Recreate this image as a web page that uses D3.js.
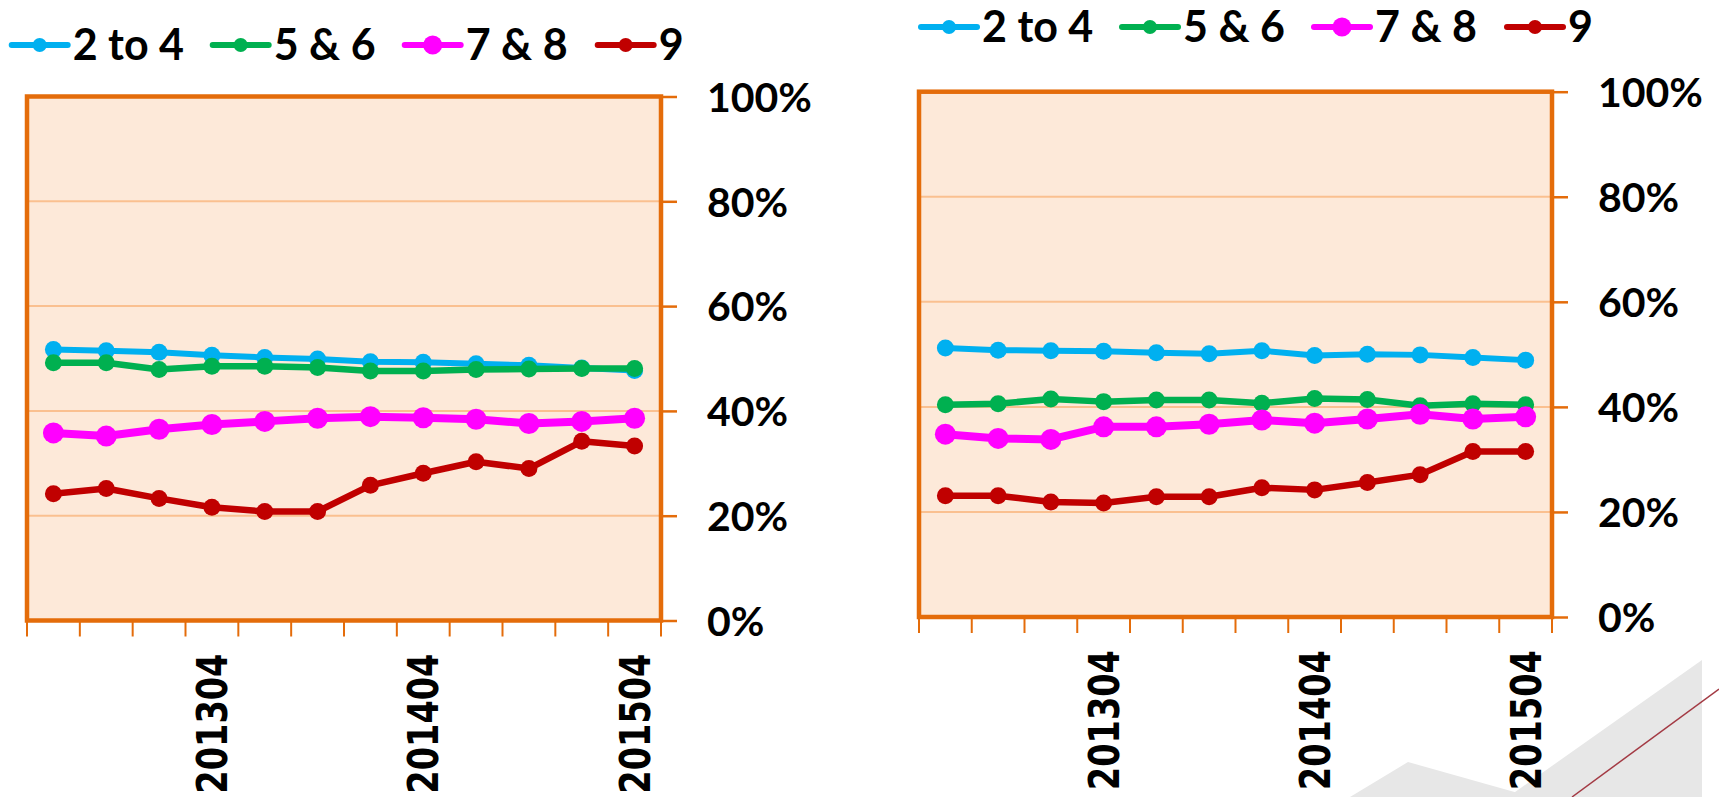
<!DOCTYPE html>
<html>
<head>
<meta charset="utf-8">
<script src="https://cdn.jsdelivr.net/npm/d3@7"></script>
<style>
  html, body { margin: 0; padding: 0; background: #ffffff; }
  svg { display: block; }
</style>
</head>
<body>
<svg id="chart" width="1719" height="797"></svg>
<script>
// ---------------- DATA ----------------
const categories = ["201301","201302","201303","201304","201401","201402","201403","201404","201501","201502","201503","201504"];
const tickLabels = ["201304","201404","201504"];
const seriesNames = ["2 to 4","5 & 6","7 & 8","9"];
const yTicks = [0, 20, 40, 60, 80, 100];

// left chart
const left_2to4 = [51.7, 51.5, 51.2, 50.6, 50.2, 49.9, 49.4, 49.3, 49.0, 48.7, 48.2, 47.7];
const left_5and6 = [49.2, 49.2, 47.9, 48.5, 48.5, 48.3, 47.6, 47.6, 47.9, 48.0, 48.1, 48.1];
const left_7and8 = [35.8, 35.2, 36.5, 37.4, 38.0, 38.6, 38.9, 38.7, 38.4, 37.6, 38.0, 38.6];
const left_9 = [24.2, 25.2, 23.3, 21.6, 20.8, 20.8, 25.8, 28.1, 30.3, 29.0, 34.2, 33.3];

// right chart
const right_2to4 = [51.2, 50.8, 50.7, 50.6, 50.3, 50.1, 50.7, 49.8, 50.0, 49.9, 49.4, 48.9];
const right_5and6 = [40.4, 40.6, 41.5, 41.0, 41.3, 41.3, 40.7, 41.6, 41.4, 40.2, 40.6, 40.4];
const right_7and8 = [34.8, 34.0, 33.8, 36.2, 36.2, 36.7, 37.5, 36.9, 37.7, 38.6, 37.7, 38.1];
const right_9 = [23.1, 23.1, 21.9, 21.7, 22.9, 22.9, 24.6, 24.2, 25.6, 27.1, 31.5, 31.5];

// ---------------- STYLE ----------------
const colors = ["#00B0F0", "#00B050", "#FF00FF", "#C00000"];
const lineWidths = [6, 6.5, 8, 6.5];
const markerR = [8.5, 8.5, 10.5, 8.5];
const legendR = [7, 7, 9.5, 7];
const legendOffsets = [0, 201, 393, 586];
const ORANGE = "#E46C0A";
const GRID = "#FAC090";
const PLOTBG = "#FDE9D9";

const svg = d3.select("#chart");

// ---------------- background decoration ----------------
const deco = svg.append("g");
deco.append("polygon")
  .attr("points", "1350,797 1408,762 1532,797")
  .attr("fill", "#E7E7E7");
deco.append("polygon")
  .attr("points", "1508,797 1702,660 1702,797")
  .attr("fill", "#E7E7E7");
deco.append("line")
  .attr("x1", 1572).attr("y1", 797).attr("x2", 1719).attr("y2", 689)
  .attr("stroke", "#A33A44").attr("stroke-width", 1.5);

// ---------------- charts ----------------
const charts = [
  { left: 27, right: 661, top: 96.5, bottom: 620.5, legendX: 11.7, legendY: 45,
    series: [left_2to4, left_5and6, left_7and8, left_9] },
  { left: 919, right: 1552, top: 91.7, bottom: 617, legendX: 921, legendY: 27,
    series: [right_2to4, right_5and6, right_7and8, right_9] }
];

charts.forEach(c => {
  const g = svg.append("g");
  const x = d3.scaleBand().domain(categories).range([c.left, c.right]);
  const y = d3.scaleLinear().domain([0, 100]).range([c.bottom, c.top]);
  const bw = x.bandwidth();

  // plot background
  g.append("rect")
    .attr("x", c.left).attr("y", y(100))
    .attr("width", c.right - c.left).attr("height", y(0) - y(100))
    .attr("fill", PLOTBG);

  // gridlines
  g.selectAll(".grid").data(yTicks.filter(t => t > 0 && t < 100)).join("line")
    .attr("x1", c.left).attr("x2", c.right)
    .attr("y1", d => y(d)).attr("y2", d => y(d))
    .attr("stroke", GRID).attr("stroke-width", 2);

  // right y axis
  const yAxis = d3.axisRight(y).tickValues(yTicks).tickSize(16).tickPadding(30)
    .tickFormat(d => d + "%");
  const ya = g.append("g").attr("transform", `translate(${c.right},0)`).call(yAxis);
  ya.select(".domain").remove();
  ya.selectAll(".tick line").attr("stroke", ORANGE).attr("stroke-width", 2.5);
  ya.selectAll(".tick text")
    .attr("fill", "#000")
    .style("font-family", "Lato, 'Open Sans', sans-serif")
    .style("font-weight", "bold")
    .style("font-size", "41px")
    .attr("dy", "0.36em");

  // x ticks at band boundaries
  const bounds = categories.map(cat => x(cat)).concat([x(categories[categories.length - 1]) + bw]);
  g.selectAll(".xt").data(bounds).join("line")
    .attr("x1", d => d).attr("x2", d => d)
    .attr("y1", y(0)).attr("y2", y(0) + 16)
    .attr("stroke", ORANGE).attr("stroke-width", 2);

  // frame
  g.append("rect")
    .attr("x", c.left).attr("y", y(100))
    .attr("width", c.right - c.left).attr("height", y(0) - y(100))
    .attr("fill", "none").attr("stroke", ORANGE).attr("stroke-width", 4.5);

  // x labels
  g.selectAll(".xl").data(tickLabels).join("text")
    .attr("transform", d => `translate(${x(d) + bw / 2},${y(0) + 33}) rotate(-90) scale(0.8,1)`)
    .attr("text-anchor", "end")
    .attr("dy", "0.36em")
    .attr("fill", "#000")
    .style("font-family", "'DejaVu Sans', Verdana, sans-serif")
    .style("font-weight", "bold")
    .style("font-size", "42px")
    .text(d => d);

  // series
  const line = d3.line().x((d, i) => x(categories[i]) + bw / 2).y(d => y(d));
  c.series.forEach((vals, si) => {
    g.append("path").datum(vals)
      .attr("d", line)
      .attr("fill", "none")
      .attr("stroke", colors[si])
      .attr("stroke-width", lineWidths[si])
      .attr("stroke-linejoin", "round")
      .attr("stroke-linecap", "round");
    g.selectAll(".m" + si).data(vals).join("circle")
      .attr("cx", (d, i) => x(categories[i]) + bw / 2)
      .attr("cy", d => y(d))
      .attr("r", markerR[si])
      .attr("fill", colors[si]);
  });

  // legend
  const lg = g.append("g").attr("transform", `translate(${c.legendX},${c.legendY})`);
  seriesNames.forEach((name, si) => {
    const it = lg.append("g").attr("transform", `translate(${legendOffsets[si]},0)`);
    it.append("line").attr("x1", 0).attr("x2", 56).attr("y1", 0).attr("y2", 0)
      .attr("stroke", colors[si]).attr("stroke-width", 6).attr("stroke-linecap", "round");
    it.append("circle").attr("cx", 28).attr("cy", 0).attr("r", legendR[si]).attr("fill", colors[si]);
    it.append("text").attr("x", 61).attr("y", 0).attr("dy", "0.36em")
      .attr("fill", "#000")
      .style("font-family", "Lato, 'Open Sans', sans-serif")
      .style("font-weight", "bold")
      .style("font-size", "43px")
      .text(name);
  });
});
</script>
</body>
</html>
